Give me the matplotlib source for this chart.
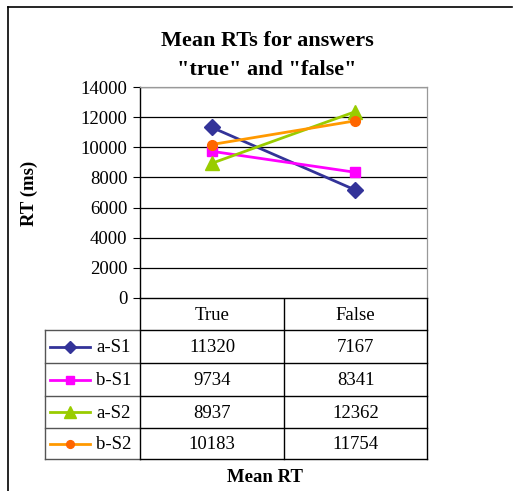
import matplotlib
matplotlib.use("Agg")
import matplotlib.pyplot as plt
from matplotlib.lines import Line2D

plt.rcParams["font.family"] = ["Liberation Serif", "DejaVu Serif"]

# ---- data ----
categories = ["True", "False"]
series_names = ["a-S1", "b-S1", "a-S2", "b-S2"]
a_s1 = [11320, 7167]
b_s1 = [9734, 8341]
a_s2 = [8937, 12362]
b_s2 = [10183, 11754]
series_values = [a_s1, b_s1, a_s2, b_s2]

colors = ["#333399", "#FF00FF", "#99CC00", "#FF9900"]
face_colors = ["#333399", "#FF00FF", "#99CC00", "#FF6600"]
markers = ["D", "s", "^", "o"]
marker_sizes = [8, 7, 10, 7]

W, H = 513, 491
DPI = 100
FS = 13.5
fig = plt.figure(figsize=(W / DPI, H / DPI), dpi=DPI)

# overlay axes in pixel coordinates for frame, table and texts
ov = fig.add_axes([0, 0, 1, 1])
ov.set_xlim(0, W)
ov.set_ylim(H, 0)
ov.axis("off")

# outer frame (left and top visible)
ov.plot([8, 8], [H, 7], color="black", lw=1.2)
ov.plot([8, 512], [7, 7], color="black", lw=1.2)

# plot area in pixels
PL, PR, PT, PB = 140, 427, 87, 298
ax = fig.add_axes([PL / W, 1 - PB / H, (PR - PL) / W, (PB - PT) / H])
ax.set_xlim(-0.5, 1.5)
ax.set_ylim(0, 14000)
ax.set_yticks(range(0, 14001, 2000))
ax.set_xticks([])
for y in range(2000, 14001, 2000):
    ax.axhline(y, color="black", lw=0.9, zorder=1)
ax.tick_params(axis="y", direction="out", length=5, width=0.8,
               labelsize=FS, pad=4)
for s in ["top", "right"]:
    ax.spines[s].set_color("#999999")
    ax.spines[s].set_linewidth(0.9)
ax.spines["left"].set_linewidth(1.0)
ax.spines["bottom"].set_linewidth(1.0)

x = list(range(len(categories)))
for vals, c, fc, m, ms in zip(series_values, colors, face_colors, markers, marker_sizes):
    ax.plot(x, vals, color=c, lw=2.0, marker=m, markersize=ms,
            markerfacecolor=fc, markeredgecolor=fc, zorder=3)

# ---- data table ----
TL, TC, TR = 45, 284, 427
hdr_top, hdr_bot = PB, 330
row_edges = [330, 363, 396, 428, 459]

ov.plot([PL, PL], [hdr_top, row_edges[-1]], color="black", lw=1.0)
ov.plot([TC, TC], [hdr_top, row_edges[-1]], color="black", lw=1.0)
ov.plot([TR, TR], [hdr_top, row_edges[-1]], color="black", lw=1.0)
ov.plot([TL, TL], [row_edges[0], row_edges[-1]], color="#555555", lw=1.0)
for yy in row_edges:
    ov.plot([TL, PL], [yy, yy], color="#555555", lw=1.0)
    ov.plot([PL, TR], [yy, yy], color="black", lw=1.0)

col_centers = [(PL + TC) / 2, (TC + TR) / 2]
for cx, cat in zip(col_centers, categories):
    ov.text(cx, (hdr_top + hdr_bot) / 2 + 1, cat, ha="center", va="center",
            fontsize=FS)

for i, (name, vals) in enumerate(zip(series_names, series_values)):
    cy = (row_edges[i] + row_edges[i + 1]) / 2
    ov.add_line(Line2D([50, 90], [cy, cy], color=colors[i], lw=2.0))
    ov.plot([70], [cy], marker=markers[i], markersize=marker_sizes[i] * 0.8,
            color=face_colors[i], markeredgecolor=face_colors[i])
    ov.text(96, cy + 1, name, ha="left", va="center", fontsize=FS)
    for cx, v in zip(col_centers, vals):
        ov.text(cx, cy + 1, str(v), ha="center", va="center", fontsize=FS)

# ---- texts ----
ov.text(267, 41, "Mean RTs for answers", ha="center", va="center",
        fontsize=16, fontweight="bold")
ov.text(267, 70, '"true" and "false"', ha="center", va="center",
        fontsize=16, fontweight="bold")
ov.text(29, 193, "RT (ms)", ha="center", va="center", rotation=90,
        fontsize=FS, fontweight="bold")
ov.text(265, 478, "Mean RT", ha="center", va="center",
        fontsize=FS, fontweight="bold")

fig.savefig("out.png", dpi=DPI)
